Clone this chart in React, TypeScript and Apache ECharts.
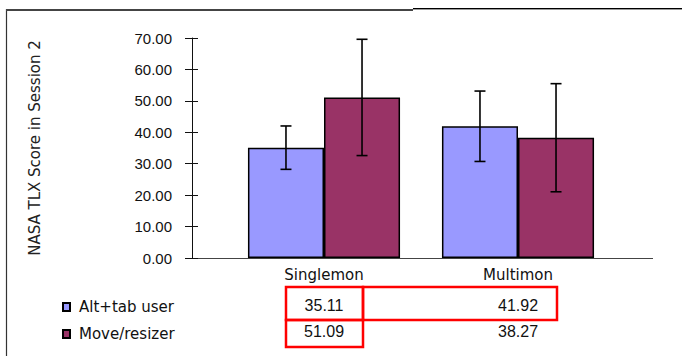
import React, { useEffect, useRef } from "react";
import * as echarts from "echarts";

const categories = ["Singlemon", "Multimon"];
const seriesNames = ["Alt+tab user", "Move/resizer"];
const altValues = [35.11, 41.92];
const moveValues = [51.09, 38.27];
const altErr = [6.9, 11.2];
const moveErr = [18.5, 17.2];
const yMin = 0;
const yMax = 70;
const yInterval = 10;

const GAP = 0.216;

function errorSeries(name: string, values: number[], errs: number[], side: number) {
  return {
    type: "custom",
    name,
    xAxisIndex: 0,
    yAxisIndex: 0,
    silent: true,
    z: 10,
    encode: { x: 0, y: [1, 2] },
    data: values.map((v, i) => [i, v - errs[i], v + errs[i]]),
    renderItem: (params: any, api: any) => {
      const i = api.value(0);
      const lo = api.coord([i, api.value(1)]);
      const hi = api.coord([i, api.value(2)]);
      const band = api.size([1, 0])[0];
      const barW = (band * (1 - GAP)) / 2;
      const x = lo[0] + side * (barW / 2);
      const cap = 5.5;
      const style = { stroke: "#000", lineWidth: 1.6 };
      return {
        type: "group",
        children: [
          { type: "line", shape: { x1: x, y1: lo[1], x2: x, y2: hi[1] }, style },
          { type: "line", shape: { x1: x - cap, y1: lo[1], x2: x + cap, y2: lo[1] }, style },
          { type: "line", shape: { x1: x - cap, y1: hi[1], x2: x + cap, y2: hi[1] }, style },
        ],
      };
    },
  };
}

export default function App() {
  const ref = useRef<HTMLDivElement>(null);
  useEffect(() => {
    if (!ref.current) return;
    const chart = echarts.init(ref.current, null, { renderer: "svg" });
    const tableAxis = (vals: number[], margin: number) => ({
      type: "category",
      data: vals.map((v) => v.toFixed(2)),
      gridIndex: 0,
      position: "bottom",
      axisLine: { show: false },
      axisTick: { show: false },
      splitLine: { show: false },
      axisLabel: {
        margin,
        fontFamily: "Liberation Sans",
        fontSize: 16,
        color: "#111",
        interval: 0,
      },
    });
    const redBox = { fill: "none", stroke: "#ff0000", lineWidth: 2.5 };
    chart.setOption({
      animation: false,
      backgroundColor: "#fff",
      grid: { left: 227, right: 67, top: 38, bottom: 98, containLabel: false },
      legend: {
        orient: "vertical",
        left: 57,
        top: 293,
        itemWidth: 7,
        itemHeight: 8,
        itemGap: 9,
        icon: "rect",
        data: seriesNames,
        textStyle: {
          fontFamily: "DejaVu Sans",
          fontSize: 15,
          color: "#111",
          lineHeight: 18,
          padding: [0, 0, 0, 4],
        },
      },
      xAxis: [
        {
          type: "category",
          data: categories,
          axisLine: { show: false },
          axisTick: { show: false },
          splitLine: { show: false },
          axisLabel: {
            margin: 9,
            fontFamily: "DejaVu Sans",
            fontSize: 15,
            color: "#111",
            interval: 0,
          },
        },
        tableAxis(altValues, 39),
        tableAxis(moveValues, 65),
      ],
      yAxis: [
        {
          type: "value",
          min: yMin,
          max: yMax,
          interval: yInterval,
          offset: 35,
          name: "NASA TLX Score in Session 2",
          nameLocation: "middle",
          nameGap: 150,
          nameTextStyle: { fontFamily: "DejaVu Sans", fontSize: 15, color: "#222" },
          axisLine: { show: true, lineStyle: { color: "#111", width: 1 } },
          axisTick: { show: true, length: 7, lineStyle: { color: "#111", width: 1 } },
          splitLine: { show: false },
          axisLabel: {
            margin: 20,
            fontFamily: "'Liberation Sans Narrow', 'Liberation Sans'",
            fontSize: 15,
            color: "#111",
            formatter: (v: number) => v.toFixed(2),
          },
        },
        {
          type: "value",
          min: yMin,
          max: yMax,
          interval: yInterval,
          offset: 35,
          position: "left",
          axisLine: { show: false },
          axisTick: { show: true, inside: true, length: 6, lineStyle: { color: "#111", width: 1 } },
          axisLabel: { show: false },
          splitLine: { show: false },
        },
      ],
      series: [
        {
          type: "bar",
          name: seriesNames[0],
          data: altValues,
          barGap: "0%",
          barCategoryGap: GAP * 100 + "%",
          itemStyle: { color: "#9999ff", borderColor: "#000", borderWidth: 1.5 },
        },
        {
          type: "bar",
          name: seriesNames[1],
          data: moveValues,
          barGap: "0%",
          barCategoryGap: GAP * 100 + "%",
          itemStyle: { color: "#993366", borderColor: "#000", borderWidth: 1.5 },
        },
        errorSeries("errAlt", altValues, altErr, -1),
        errorSeries("errMove", moveValues, moveErr, 1),
      ],
      graphic: [
        { type: "line", shape: { x1: 6.5, y1: 9, x2: 6.5, y2: 356 }, style: { stroke: "#333", lineWidth: 1.2 } },
        { type: "line", shape: { x1: 6, y1: 10, x2: 413, y2: 10 }, style: { stroke: "#444", lineWidth: 2 } },
        { type: "line", shape: { x1: 413, y1: 8.5, x2: 682, y2: 8.5 }, style: { stroke: "#000", lineWidth: 1 } },
        { type: "line", shape: { x1: 413, y1: 9.5, x2: 682, y2: 9.5 }, style: { stroke: "#999", lineWidth: 1 } },
        { type: "line", shape: { x1: 192, y1: 258.5, x2: 653, y2: 258.5 }, style: { stroke: "#444", lineWidth: 1.2 } },
        { type: "rect", shape: { x: 286, y: 287, width: 77, height: 33 }, style: redBox },
        { type: "rect", shape: { x: 286, y: 320, width: 77, height: 27 }, style: redBox },
        { type: "rect", shape: { x: 363, y: 287, width: 194, height: 33 }, style: redBox },
      ],
    });
    return () => chart.dispose();
  }, []);
  return <div ref={ref} style={{ width: 682, height: 356, position: "absolute", left: 0, top: 0 }} />;
}
